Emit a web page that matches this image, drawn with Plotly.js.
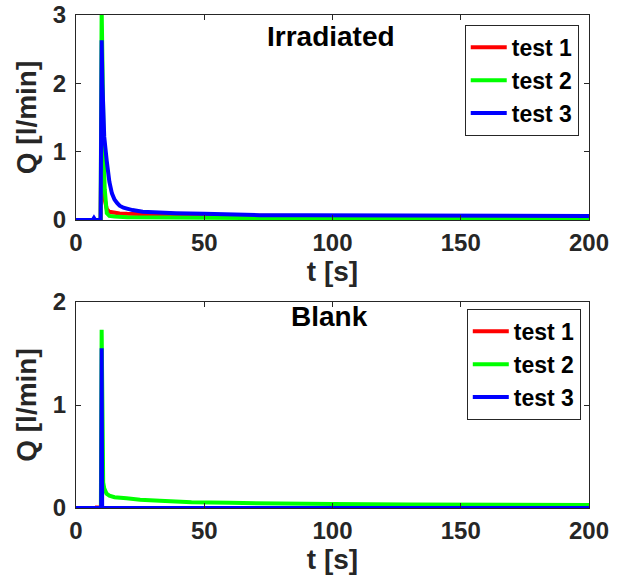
<!DOCTYPE html>
<html>
<head>
<meta charset="utf-8">
<script src="https://cdn.plot.ly/plotly-3.0.1.min.js"></script>
<style>html,body{margin:0;padding:0;background:#fff;}#chart{width:624px;height:579px;}</style>
</head>
<body>
<div id="chart"></div>
<script>
// ---------- Irradiated ----------
const irrT1_t = [0, 5, 9.6, 10, 10.4, 10.8, 11.2, 11.6, 12, 13, 14, 15, 17, 20, 25, 30, 40, 50, 60, 80, 100, 120, 150, 180, 200];
const irrT1_q = [0, 0, 0, 1.5, 0.9, 0.5, 0.3, 0.2, 0.16, 0.12, 0.11, 0.1, 0.095, 0.09, 0.085, 0.08, 0.075, 0.07, 0.065, 0.06, 0.055, 0.05, 0.045, 0.042, 0.04];

const irrT2_t = [0, 5, 9.6, 10, 10.3, 10.6, 10.9, 11.2, 11.6, 12, 13, 15, 20, 30, 50, 70, 100, 150, 200];
const irrT2_q = [0, 0, 0, 3.1, 1.8, 1.25, 0.8, 0.45, 0.2, 0.1, 0.06, 0.05, 0.04, 0.035, 0.03, 0.028, 0.025, 0.022, 0.02];

const irrT3_t = [0, 6.5, 7, 7.5, 9.6, 10, 10.3, 10.5, 11, 12, 13, 14, 15, 16, 17, 18.5, 20, 22, 26, 30, 39, 50, 60, 71.6, 90, 110, 130, 150, 170, 200];
const irrT3_q = [0, 0, 0.03, 0, 0, 2.63, 2.0, 1.55, 1.22, 0.86, 0.56, 0.39, 0.3, 0.25, 0.21, 0.18, 0.16, 0.145, 0.12, 0.11, 0.1, 0.09, 0.08, 0.07, 0.068, 0.065, 0.063, 0.06, 0.06, 0.058];

// ---------- Blank ----------
const blkT1_t = [0, 8, 8.2, 8.4, 9.8, 10, 10.2, 200];
const blkT1_q = [0, 0, 0.02, 0, 0, 0.03, 0, 0];

const blkT2_t = [0, 5, 9.7, 10, 10.2, 10.4, 10.6, 11, 11.9, 13, 15, 19.7, 25, 32.7, 45, 60, 71.6, 100, 130, 160, 200];
const blkT2_q = [0, 0, 0, 1.73, 1.3, 0.6, 0.25, 0.19, 0.14, 0.12, 0.105, 0.094, 0.08, 0.07, 0.055, 0.05, 0.045, 0.038, 0.034, 0.031, 0.03];

const blkT3_t = [0, 9.8, 10, 10.2, 200];
const blkT3_q = [0, 0, 1.55, 0, 0];

const seriesNames = ['test 1', 'test 2', 'test 3'];
const seriesColors = ['#ff0000', '#00ff00', '#0000ff'];

const font = 'Liberation Sans, Arial, sans-serif';

function tr(x, y, i, ax, lg) {
  return {
    x: x, y: y, type: 'scatter', mode: 'lines', name: seriesNames[i],
    line: {color: seriesColors[i], width: 4},
    xaxis: ax === 1 ? 'x' : 'x2', yaxis: ax === 1 ? 'y' : 'y2',
    legend: lg
  };
}

const data = [
  tr(irrT1_t, irrT1_q, 0, 1, 'legend'),
  tr(irrT2_t, irrT2_q, 1, 1, 'legend'),
  tr(irrT3_t, irrT3_q, 2, 1, 'legend'),
  tr(blkT1_t, blkT1_q, 0, 2, 'legend2'),
  tr(blkT2_t, blkT2_q, 1, 2, 'legend2'),
  tr(blkT3_t, blkT3_q, 2, 2, 'legend2')
];

const axCommon = {
  showgrid: false, zeroline: false, showline: true, linecolor: '#262626', linewidth: 1,
  mirror: 'ticks', ticks: 'inside', ticklen: 5, tickcolor: '#262626',
  tickfont: {family: font, size: 24, color: '#262626', weight: 'bold'}
};

function xax(anchor) {
  return Object.assign({}, axCommon, {
    range: [0, 200], dtick: 50, tick0: 0, anchor: anchor, domain: [0, 1],
    ticklabelstandoff: 1,
    title: {text: 't [s]', font: {family: font, size: 28, color: '#262626', weight: 'bold'}, standoff: 6}
  });
}
function yax(anchor, dom, maxv) {
  return Object.assign({}, axCommon, {
    range: [0, maxv], dtick: 1, tick0: 0, anchor: anchor, domain: dom,
    ticklabelstandoff: 4,
    title: {text: 'Q [l/min]', font: {family: font, size: 28, color: '#262626', weight: 'bold'}, standoff: 8}
  });
}

const legendCommon = {
  bgcolor: '#ffffff', bordercolor: '#262626', borderwidth: 1,
  font: {family: font, size: 23, color: '#000000', weight: 'bold'},
  xanchor: 'right', yanchor: 'top', itemwidth: 36, tracegroupgap: 0
};

const layout = {
  width: 624, height: 579,
  margin: {l: 76, r: 35, t: 15, b: 71},
  paper_bgcolor: '#ffffff', plot_bgcolor: '#ffffff',
  showlegend: true,
  xaxis: xax('y'),
  yaxis: yax('x', [0.5842, 1], 3),
  xaxis2: xax('y2'),
  yaxis2: yax('x2', [0, 0.4178], 2),
  legend: Object.assign({}, legendCommon, {x: 0.98, y: 0.98}),
  legend2: Object.assign({}, legendCommon, {x: 0.984, y: 0.404}),
  annotations: [
    {text: 'Irradiated', xref: 'paper', yref: 'paper', x: 0.498, y: 0.957, xanchor: 'center', yanchor: 'middle', showarrow: false,
     font: {family: font, size: 28, color: '#000000', weight: 'bold'}},
    {text: 'Blank', xref: 'paper', yref: 'paper', x: 0.494, y: 0.388, xanchor: 'center', yanchor: 'middle', showarrow: false,
     font: {family: font, size: 28, color: '#000000', weight: 'bold'}}
  ]
};

Plotly.newPlot('chart', data, layout, {staticPlot: true, displayModeBar: false});
</script>
</body>
</html>
